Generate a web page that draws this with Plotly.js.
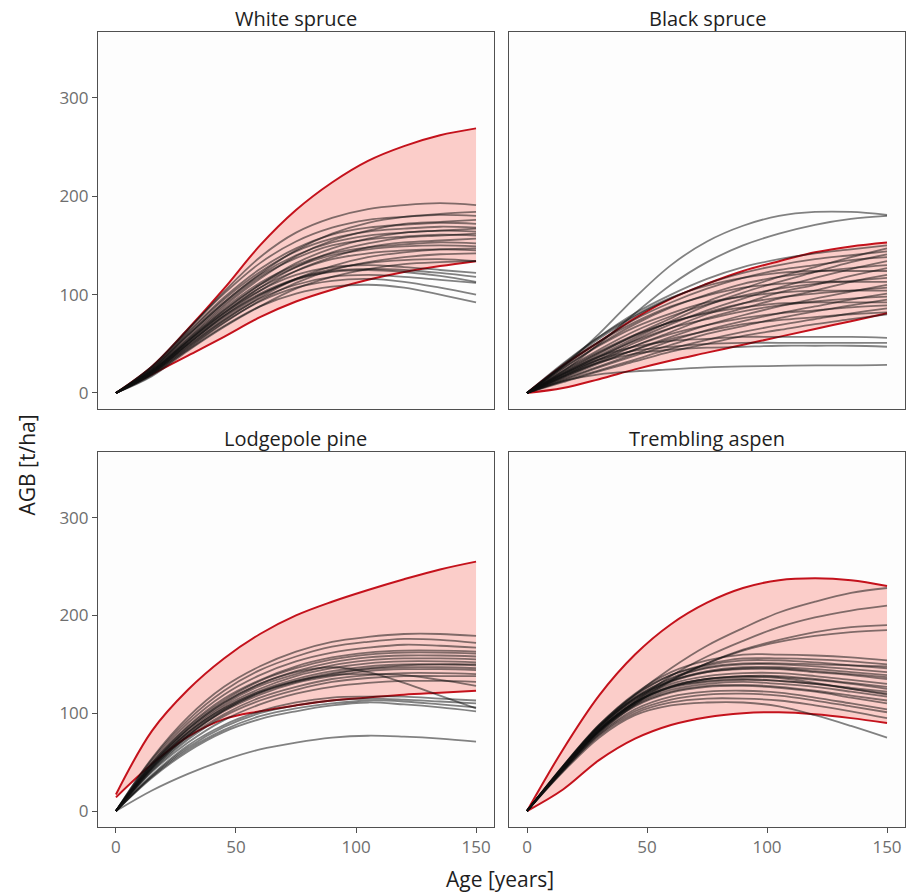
<!DOCTYPE html>
<html>
<head>
<meta charset="utf-8">
<script src="https://cdn.plot.ly/plotly-3.0.1.min.js"></script>
<style>html,body{margin:0;padding:0;background:#fff;}#chart{width:907px;height:893px;}</style>
</head>
<body>
<div id="chart"></div>
<script>
const AGES = [0, 15, 30, 45, 60, 75, 90, 105, 120, 135, 150];
const PANEL_TITLES = ["White spruce", "Black spruce", "Lodgepole pine", "Trembling aspen"];
const X_TICKS = [0, 50, 100, 150];
const Y_TICKS = [0, 100, 200, 300];

// White spruce
const WS_UPPER = [0, 27, 65, 106, 150, 186, 214, 236, 251, 262, 269];
const WS_LOWER = [0, 19, 38, 57, 77, 93, 105, 115, 123, 129, 134];
const WS_CURVES = [
  [0, 27, 64, 103, 138, 163, 178, 187, 191, 193, 191],
  [0, 24, 59, 92, 121, 145, 162, 173, 179, 182, 184],
  [0, 27, 65, 101, 132, 154, 168, 176, 179, 181, 180],
  [0, 23, 56, 88, 116, 139, 155, 165, 172, 174, 176],
  [0, 26, 62, 97, 126, 147, 161, 168, 171, 173, 172],
  [0, 25, 61, 95, 123, 144, 157, 164, 167, 169, 168],
  [0, 22, 53, 84, 110, 132, 147, 157, 163, 165, 167],
  [0, 25, 59, 92, 120, 140, 153, 160, 163, 165, 164],
  [0, 21, 52, 81, 107, 128, 143, 152, 158, 160, 162],
  [0, 24, 58, 90, 118, 137, 150, 156, 159, 161, 160],
  [0, 20, 50, 79, 104, 124, 138, 148, 153, 155, 157],
  [0, 23, 55, 86, 112, 130, 142, 148, 151, 153, 152],
  [0, 22, 54, 84, 110, 128, 140, 146, 149, 150, 149],
  [0, 19, 47, 74, 97, 116, 129, 138, 143, 146, 147],
  [0, 22, 53, 82, 107, 124, 136, 142, 145, 146, 145],
  [0, 18, 45, 71, 94, 112, 125, 133, 138, 141, 142],
  [0, 20, 49, 76, 99, 116, 126, 132, 135, 136, 134],
  [0, 22, 52, 81, 104, 120, 128, 130, 128, 125, 122],
  [0, 21, 50, 78, 101, 116, 124, 126, 125, 122, 118],
  [0, 21, 50, 78, 100, 115, 123, 125, 123, 119, 113],
  [0, 20, 48, 74, 96, 110, 118, 120, 118, 115, 112],
  [0, 20, 46, 72, 93, 107, 114, 116, 113, 107, 100],
  [0, 19, 44, 68, 88, 101, 108, 110, 107, 100, 92],
  [0, 17, 43, 67, 88, 106, 118, 126, 131, 133, 134]
];

// Black spruce
const BS_UPPER = [0, 28, 52, 76, 96, 111, 124, 134, 143, 149, 153];
const BS_LOWER = [0, 5, 14, 24, 33, 41, 49, 57, 65, 73, 81];
const BS_CURVES = [
  [0, 27, 60, 97, 130, 154, 170, 180, 184, 184, 181],
  [0, 22, 50, 81, 110, 133, 150, 162, 171, 177, 180],
  [0, 29, 57, 81, 100, 116, 128, 136, 142, 146, 150],
  [0, 20, 40, 59, 76, 93, 106, 118, 128, 138, 147],
  [0, 28, 55, 78, 96, 111, 122, 130, 136, 140, 144],
  [0, 19, 38, 56, 73, 89, 102, 113, 123, 133, 141],
  [0, 27, 52, 75, 92, 106, 117, 125, 130, 135, 138],
  [0, 18, 36, 54, 70, 84, 96, 107, 117, 126, 134],
  [0, 25, 49, 70, 87, 100, 111, 118, 123, 127, 130],
  [0, 17, 34, 51, 66, 80, 91, 102, 110, 119, 127],
  [0, 30, 57, 79, 97, 109, 117, 122, 124, 124, 124],
  [0, 16, 32, 48, 62, 76, 86, 96, 104, 113, 120],
  [0, 23, 44, 63, 78, 90, 99, 106, 111, 114, 117],
  [0, 27, 52, 72, 88, 99, 107, 111, 113, 113, 113],
  [0, 15, 30, 44, 57, 69, 79, 88, 96, 103, 110],
  [0, 21, 41, 58, 72, 82, 91, 97, 101, 104, 107],
  [0, 25, 48, 67, 81, 92, 98, 102, 104, 104, 104],
  [0, 14, 27, 40, 53, 64, 73, 81, 88, 95, 101],
  [0, 19, 37, 53, 66, 75, 83, 89, 93, 96, 98],
  [0, 13, 26, 38, 49, 60, 68, 76, 83, 89, 95],
  [0, 22, 42, 59, 72, 81, 87, 91, 92, 92, 92],
  [0, 17, 34, 48, 60, 69, 76, 81, 84, 87, 89],
  [0, 12, 23, 34, 45, 54, 62, 69, 75, 81, 86],
  [0, 16, 31, 44, 55, 63, 70, 74, 77, 80, 82],
  [0, 11, 22, 32, 42, 50, 58, 64, 70, 75, 80],
  [0, 20, 37, 47, 53, 55, 57, 57, 57, 57, 56],
  [0, 19, 34, 43, 47, 50, 51, 51, 51, 51, 51],
  [0, 17, 31, 40, 44, 46, 47, 48, 48, 48, 47],
  [0, 12, 19, 22, 24, 26, 27, 27.5, 28, 28, 28.5]
];

// Lodgepole pine
const LP_UPPER = [17, 82, 124, 156, 181, 200, 214, 226, 237, 247, 255];
const LP_LOWER = [14, 48, 76, 94, 102, 108, 113, 116, 119, 121, 123];
const LP_CURVES = [
  [0, 54, 96, 127, 148, 163, 173, 178, 181, 181, 179],
  [0, 53, 93, 123, 144, 158, 168, 173, 176, 175, 172],
  [0, 51, 90, 119, 139, 153, 162, 167, 170, 169, 167],
  [0, 49, 87, 115, 134, 148, 157, 162, 164, 164, 163],
  [0, 49, 86, 113, 133, 146, 155, 160, 162, 162, 161],
  [0, 48, 84, 111, 130, 143, 152, 157, 159, 159, 158],
  [0, 47, 83, 109, 128, 140, 149, 154, 156, 156, 155],
  [0, 46, 81, 107, 125, 138, 146, 151, 153, 153, 152],
  [0, 45, 80, 105, 123, 135, 143, 148, 150, 150, 149],
  [0, 44, 78, 103, 121, 132, 140, 145, 147, 147, 146],
  [0, 44, 77, 102, 119, 131, 138, 143, 145, 145, 144],
  [0, 42, 75, 99, 116, 127, 135, 139, 141, 141, 140],
  [0, 40, 70, 93, 109, 120, 127, 131, 133, 133, 132],
  [0, 47, 84, 111, 130, 142, 147, 142, 131, 118, 105],
  [0, 45, 80, 105, 122, 133, 139, 140, 139, 134, 128],
  [0, 37, 67, 88, 102, 111, 116, 117, 117, 115, 113],
  [0, 36, 65, 86, 100, 108, 113, 115, 114, 112, 110],
  [0, 35, 63, 83, 97, 105, 110, 113, 112, 109, 106],
  [0, 34, 61, 81, 94, 102, 108, 111, 109, 106, 102],
  [0, 21, 38, 52, 63, 70, 75, 77, 76, 74, 71],
  [0, 43, 77, 103, 121, 133, 141, 146, 149, 150, 150],
  [0, 41, 73, 97, 113, 124, 132, 136, 138, 138, 138]
];

// Trembling aspen
const TA_UPPER = [0, 63, 118, 160, 191, 213, 228, 236, 238, 236, 230];
const TA_LOWER = [0, 22, 52, 74, 88, 96, 100, 101, 99, 95, 90];
const TA_CURVES = [
  [0, 46, 87, 119, 146, 169, 187, 203, 214, 223, 228],
  [0, 44, 82, 112, 138, 158, 174, 188, 198, 205, 210],
  [0, 43, 80, 109, 133, 151, 165, 175, 183, 188, 190],
  [0, 44, 82, 111, 134, 151, 164, 173, 179, 183, 185],
  [0, 46, 88, 120, 142, 154, 160, 160, 159, 157, 154],
  [0, 45, 87, 118, 139, 150, 156, 156, 155, 153, 150],
  [0, 46, 88, 119, 139, 149, 154, 154, 152, 149, 146],
  [0, 45, 86, 116, 135, 146, 150, 150, 148, 145, 142],
  [0, 44, 85, 115, 133, 143, 147, 147, 145, 142, 139],
  [0, 45, 86, 115, 133, 142, 145, 145, 142, 139, 135],
  [0, 44, 84, 113, 130, 138, 141, 141, 138, 134, 130],
  [0, 43, 83, 111, 128, 135, 138, 138, 135, 131, 127],
  [0, 44, 83, 111, 127, 133, 135, 133, 130, 125, 120],
  [0, 43, 82, 109, 124, 130, 132, 130, 127, 122, 117],
  [0, 42, 81, 108, 122, 128, 129, 127, 123, 118, 113],
  [0, 43, 81, 107, 121, 127, 128, 126, 122, 116, 110],
  [0, 42, 79, 104, 117, 122, 123, 121, 116, 110, 104],
  [0, 41, 78, 102, 114, 119, 120, 118, 113, 107, 101],
  [0, 41, 77, 100, 111, 115, 115, 113, 108, 102, 95],
  [0, 40, 75, 98, 108, 111, 111, 107, 98, 87, 75],
  [0, 45, 86, 116, 136, 147, 151, 151, 150, 149, 148],
  [0, 43, 82, 110, 126, 132, 134, 133, 130, 126, 122],
  [0, 45, 85, 114, 132, 142, 146, 146, 143, 140, 137],
  [0, 44, 83, 111, 127, 135, 138, 137, 134, 130, 125],
  [0, 44, 83, 111, 127, 135, 137, 136, 131, 125, 119]
];

const RED = "#c4121c";
const FILL = "rgba(248,118,109,0.36)";
const GRAY = "rgba(15,15,15,0.52)";
const FONT = "Open Sans, Noto Sans, sans-serif";

const traces = [];
function addPanel(k, upper, lower, curves) {
  const xa = k === 1 ? "x" : "x" + k;
  const ya = k === 1 ? "y" : "y" + k;
  traces.push({x: AGES, y: upper, xaxis: xa, yaxis: ya, type: "scatter", mode: "lines",
    line: {color: RED, width: 2, shape: "spline"}, hoverinfo: "skip", showlegend: false});
  traces.push({x: AGES, y: lower, xaxis: xa, yaxis: ya, type: "scatter", mode: "lines",
    fill: "tonexty", fillcolor: FILL,
    line: {color: RED, width: 2, shape: "spline"}, hoverinfo: "skip", showlegend: false});
  curves.forEach(c => traces.push({x: AGES, y: c, xaxis: xa, yaxis: ya, type: "scatter", mode: "lines",
    line: {color: GRAY, width: 1.8, shape: "spline"}, hoverinfo: "skip", showlegend: false}));
}
addPanel(1, WS_UPPER, WS_LOWER, WS_CURVES);
addPanel(2, BS_UPPER, BS_LOWER, BS_CURVES);
addPanel(3, LP_UPPER, LP_LOWER, LP_CURVES);
addPanel(4, TA_UPPER, TA_LOWER, TA_CURVES);

const XD = [[0.1080, 0.5447], [0.5612, 0.9978]];
const YD = [[0.5420, 0.9642], [0.0739, 0.4938]];

function xAxis(col, row, anchor) {
  const bottom = row === 1;
  return {domain: XD[col], anchor: anchor, range: [-7.5, 157.5], tickvals: X_TICKS,
    showgrid: false, zeroline: false, showline: true, mirror: true, linecolor: "#505050", linewidth: 1,
    ticks: bottom ? "outside" : "", ticklen: 5, tickcolor: "#505050",
    showticklabels: bottom, tickfont: {family: FONT, size: 17, color: "#6e6e6e"}};
}
function yAxis(col, row, anchor) {
  const left = col === 0;
  return {domain: YD[row], anchor: anchor, range: [-16.3, 367], tickvals: Y_TICKS,
    showgrid: false, zeroline: false, showline: true, mirror: true, linecolor: "#505050", linewidth: 1,
    ticks: left ? "outside" : "", ticklen: 5, tickcolor: "#505050",
    showticklabels: left, tickfont: {family: FONT, size: 17, color: "#6e6e6e"}};
}

const annotations = [];
const pos = [[0, 0], [1, 0], [0, 1], [1, 1]];
PANEL_TITLES.forEach((t, i) => {
  const [c, r] = pos[i];
  annotations.push({text: t, xref: "paper", yref: "paper", x: (XD[c][0] + XD[c][1]) / 2, y: YD[r][1],
    xanchor: "center", yanchor: "bottom", yshift: -2, showarrow: false,
    font: {family: FONT, size: 20, color: "#1e1e1e"}});
});
annotations.push({text: "AGB [t/ha]", xref: "paper", yref: "paper", x: 0.03, y: 0.479, textangle: -90,
  xanchor: "center", yanchor: "middle", showarrow: false, font: {family: FONT, size: 21, color: "#1e1e1e"}});
annotations.push({text: "Age [years]", xref: "paper", yref: "paper", x: 0.551, y: 0.016,
  xanchor: "center", yanchor: "middle", showarrow: false, font: {family: FONT, size: 21, color: "#1e1e1e"}});

const layout = {
  width: 907, height: 893, margin: {l: 0, r: 0, t: 0, b: 0},
  paper_bgcolor: "#ffffff", plot_bgcolor: "#fdfdfd", showlegend: false,
  font: {family: FONT},
  xaxis: xAxis(0, 0, "y"), yaxis: yAxis(0, 0, "x"),
  xaxis2: xAxis(1, 0, "y2"), yaxis2: yAxis(1, 0, "x2"),
  xaxis3: xAxis(0, 1, "y3"), yaxis3: yAxis(0, 1, "x3"),
  xaxis4: xAxis(1, 1, "y4"), yaxis4: yAxis(1, 1, "x4"),
  annotations: annotations
};

Plotly.newPlot("chart", traces, layout, {displayModeBar: false, staticPlot: true});
</script>
</body>
</html>
